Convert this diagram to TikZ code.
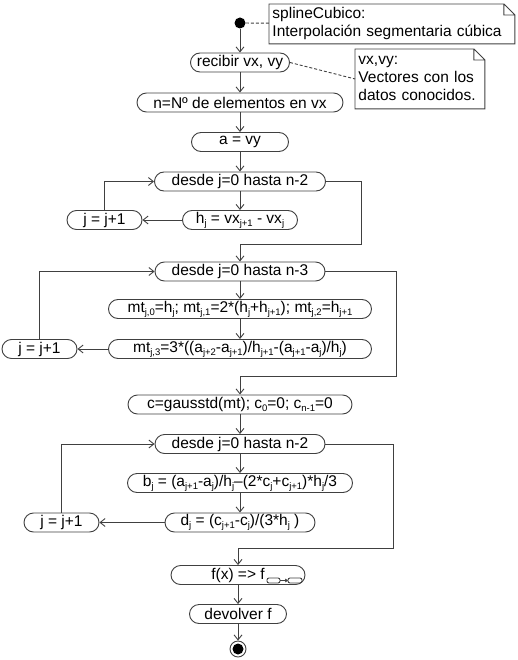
\documentclass[tikz,border=0pt]{standalone}
\usepackage{fontspec}
\setmainfont{Liberation Sans}
\usetikzlibrary{arrows.meta}
\definecolor{umlline}{HTML}{404040}
\newcommand{\subix}[1]{\raisebox{-3pt}{\fontsize{9.5}{10}\selectfont #1}}
\begin{document}
\begin{tikzpicture}[x=1pt,y=-1pt,line width=0.9pt,
  every node/.style={font=\fontsize{15.5}{18}\selectfont},
  act/.style={draw=umlline,fill=white,rounded corners=9.5pt,minimum height=19pt,inner xsep=4pt,inner ysep=0pt},
  flow/.style={draw=umlline,-{Straight Barb[length=5pt,width=8pt]}},
  notebox/.style={anchor=north west,align=left,inner xsep=3pt,inner ysep=2pt},
  notelink/.style={draw=umlline,dash pattern=on 3pt off 2pt}]
\useasboundingbox (0,0) rectangle (518,660);
\node (start) at (240,23) [circle,fill=black,minimum size=11pt,inner sep=0pt] {};
\node (note1) at (269,4) [notebox,text width=239pt,minimum height=39pt] {splineCubico:\\Interpolación segmentaria cúbica};
\node (recibir) at (240,62.5) [act,minimum width=99pt] {recibir vx, vy};
\node (note2) at (355,49) [notebox,text width=123pt,minimum height=59pt] {vx,vy:\\Vectores con los\\datos conocidos.};
\node (nvx) at (240,102.5) [act,minimum width=206pt] {n=Nº de elementos en vx};
\node (avy) at (240,142) [act,minimum width=97pt] {a = vy};
% primer bucle
\node (loopA) at (240,181.5) [act,minimum width=171pt] {desde j=0 hasta n-2};
\node (hj) at (240,220) [act,minimum width=115pt] {h\subix{j} = vx\subix{j+1} - vx\subix{j}};
\node (jA) at (104.5,220) [act,minimum width=75pt] {j = j+1};
% segundo bucle
\node (loopB) at (240,271.5) [act,minimum width=170pt] {desde j=0 hasta n-3};
\node (mtA) at (240,309) [act,minimum width=263pt] {mt\subix{j,0}=h\subix{j}; mt\subix{j,1}=2*(h\subix{j}+h\subix{j+1}); mt\subix{j,2}=h\subix{j+1}};
\node (mtB) at (240,349) [act,minimum width=263pt] {mt\subix{j,3}=3*((a\subix{j+2}-a\subix{j+1})/h\subix{j+1}-(a\subix{j+1}-a\subix{j})/h\subix{j})};
\node (jB) at (39.5,349) [act,minimum width=75pt] {j = j+1};
\node (gauss) at (240,404.5) [act,minimum width=224pt] {c=gausstd(mt); c\subix{0}=0; c\subix{n-1}=0};
% tercer bucle
\node (loopC) at (240,444) [act,minimum width=170pt] {desde j=0 hasta n-2};
\node (bj) at (240,483) [act,minimum width=225pt] {b\subix{j} = (a\subix{j+1}-a\subix{j})/h\subix{j}–(2*c\subix{j}+c\subix{j+1})*h\subix{j}/3};
\node (dj) at (240,522.5) [act,minimum width=150pt] {d\subix{j} = (c\subix{j+1}-c\subix{j})/(3*h\subix{j} )};
\node (jC) at (61.5,522.5) [act,minimum width=75pt] {j = j+1};
\node (fx) at (238,575) [act,minimum width=134pt] {f(x) => f\hspace{13pt}};
\node (ret) at (238,614) [act,minimum width=97pt] {devolver f};
\node (stop) at (238,649) [circle,draw=umlline,fill=white,minimum size=16pt,inner sep=0pt] {};
\fill (stop.center) circle (5.5pt);
% notas
\foreach \nt in {note1,note2}
  \draw[umlline] (\nt.north west) -- ([xshift=-11pt]\nt.north east) -- ([yshift=-11pt]\nt.north east)
    -- (\nt.south east) -- (\nt.south west) -- cycle
    ([xshift=-11pt]\nt.north east) |- ([yshift=-11pt]\nt.north east);
\draw[notelink] (start) -- (note1);
\draw[notelink] (recibir.east) -- (note2.west);
% icono de la llamada
\draw[umlline,rounded corners=2pt] (267,578) rectangle (280,583);
\draw[umlline,rounded corners=2pt] (288,578) rectangle (302,583);
\draw[umlline,-{Straight Barb[length=2pt,width=3pt]}] (280,580.5) -- (288,580.5);
% flujo
\foreach \from/\to in {start/recibir,recibir/nvx,nvx/avy,avy/loopA,loopA/hj,hj/jA,loopB/mtA,mtA/mtB,mtB/jB,gauss/loopC,loopC/bj,bj/dj,dj/jC,fx/ret,ret/stop}
  \draw[flow] (\from) -- (\to);
\foreach \jn/\lp in {jA/loopA,jB/loopB,jC/loopC}
  \draw[flow] (\jn) |- (\lp);
\draw[flow] (loopA.east) -| (361,244) -| (loopB);
\draw[flow] (loopB.east) -| (396,376) -| (gauss);
\draw[flow] (loopC.east) -| (393,548) -| (fx);
\end{tikzpicture}
\end{document}
